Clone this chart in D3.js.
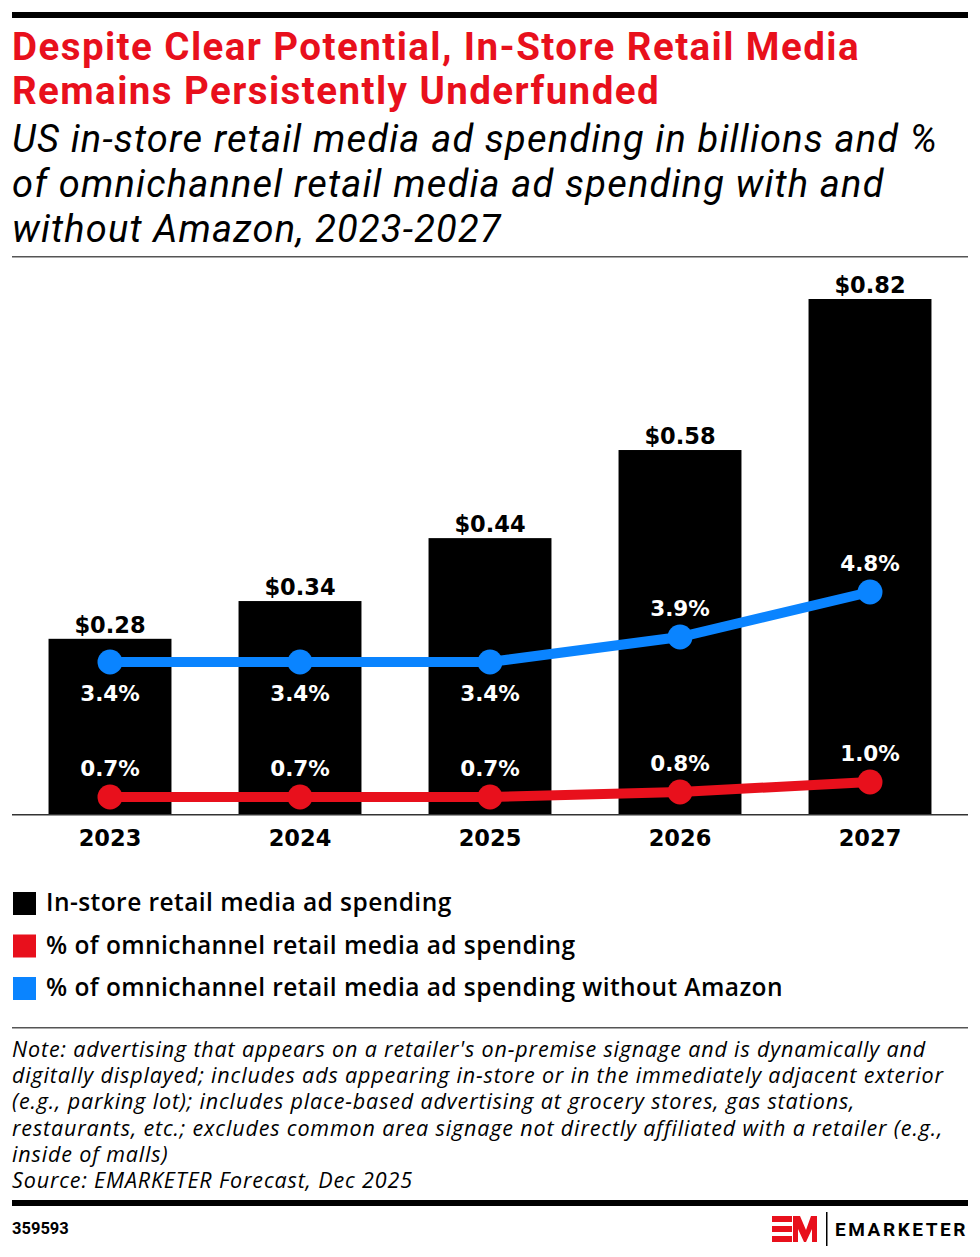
<!DOCTYPE html>
<html><head><meta charset="utf-8">
<script src="https://cdn.jsdelivr.net/npm/d3@7"></script>
<style>
body{margin:0;background:#fff;}
svg{display:block;}
</style></head>
<body>
<svg id="c" width="980" height="1257"></svg>
<script>
const years = ["2023","2024","2025","2026","2027"];
const spending = [0.28, 0.34, 0.44, 0.58, 0.82];
const pctOmni = [0.7, 0.7, 0.7, 0.8, 1.0];
const pctNoAmazon = [3.4, 3.4, 3.4, 3.9, 4.8];
const blueLabelPos = ["below","below","below","above","above"];
const legendItems = ["In-store retail media ad spending","% of omnichannel retail media ad spending","% of omnichannel retail media ad spending without Amazon"];
const titleLines = ["Despite Clear Potential, In-Store Retail Media","Remains Persistently Underfunded"];
const subtitleLines = ["US in-store retail media ad spending in billions and %","of omnichannel retail media ad spending with and","without Amazon, 2023-2027"];
const noteLines = ["Note: advertising that appears on a retailer's on-premise signage and is dynamically and",
"digitally displayed; includes ads appearing in-store or in the immediately adjacent exterior",
"(e.g., parking lot); includes place-based advertising at grocery stores, gas stations,",
"restaurants, etc.; excludes common area signage not directly affiliated with a retailer (e.g.,",
"inside of malls)",
"Source: EMARKETER Forecast, Dec 2025"];
const chartId = "359593";

const RED = "#E8101C", BLUE = "#0A84FF", BLACK = "#000";
const svg = d3.select("#c");
const F = "Roboto, 'Noto Sans', sans-serif";
const FN = "'DejaVu Sans', sans-serif";
const FL = "'Open Sans', sans-serif";

function fitBlock(sel, refIndex, target){
  const n = sel.nodes()[refIndex];
  const w = n.getComputedTextLength();
  const ls = (target - w) / n.textContent.length;
  sel.attr("letter-spacing", ls);
}

svg.append("rect").attr("x",12).attr("y",12).attr("width",956).attr("height",6).attr("fill","#000");
const tt = svg.append("g");
const tSel = tt.selectAll("text.t").data(titleLines).join("text").attr("class","t")
  .attr("x",12).attr("y",(d,i)=>60+i*44)
  .attr("font-family",F).attr("font-weight",700).attr("font-size",38.5).attr("fill",RED).text(d=>d);
fitBlock(tSel,0,848);
const sSel = tt.selectAll("text.s").data(subtitleLines).join("text").attr("class","s")
  .attr("x",12).attr("y",(d,i)=>152+i*45)
  .attr("font-family",F).attr("font-style","italic").attr("font-weight",400).attr("font-size",38).attr("fill","#000").text(d=>d);
fitBlock(sSel,0,926);
svg.append("rect").attr("x",12).attr("y",256).attr("width",956).attr("height",1.5).attr("fill","#555");

const x = d3.scaleBand().domain(years).range([15,965]).paddingInner(0.353).paddingOuter(0.1765);
const y = d3.scaleLinear().domain([0,0.82]).range([815,299]);
const yp = d3.scaleLinear().domain([0,5]).range([832,582]);

const g = svg.append("g");
g.selectAll("rect.bar").data(spending).join("rect").attr("class","bar")
  .attr("x",(d,i)=>x(years[i])).attr("width",x.bandwidth())
  .attr("y",d=>y(d)).attr("height",d=>y(0)-y(d)).attr("fill",BLACK);
g.selectAll("text.bv").data(spending).join("text").attr("class","bv")
  .attr("x",(d,i)=>x(years[i])+x.bandwidth()/2).attr("y",d=>y(d)-6)
  .attr("text-anchor","middle").attr("font-family",FN).attr("font-weight",700).attr("font-size",22.5)
  .text(d=>"$"+d.toFixed(2));

const ax = svg.append("g").attr("transform","translate(0,815)").call(d3.axisBottom(x).tickSize(0).tickPadding(15.5));
ax.select(".domain").remove();
ax.selectAll("text").attr("font-family",FN).attr("font-weight",700).attr("font-size",22.5).attr("fill","#000");
svg.append("rect").attr("x",12).attr("y",814).attr("width",956).attr("height",1.5).attr("fill","#333");

const cx = i => x(years[i])+x.bandwidth()/2;
const line = d3.line().x((d,i)=>cx(i)).y(d=>yp(d));
function series(data,color,labelPos){
  const s = svg.append("g");
  s.append("path").datum(data).attr("d",line).attr("fill","none").attr("stroke",color).attr("stroke-width",10);
  s.selectAll("circle").data(data).join("circle").attr("cx",(d,i)=>cx(i)).attr("cy",d=>yp(d)).attr("r",12.5).attr("fill",color);
  s.selectAll("text").data(data).join("text")
    .attr("x",(d,i)=>cx(i)).attr("y",(d,i)=>labelPos[i]==="below"? yp(d)+39 : yp(d)-21)
    .attr("text-anchor","middle").attr("font-family",FN).attr("font-weight",700).attr("font-size",21.5)
    .attr("fill","#fff").text(d=>d.toFixed(1)+"%");
}
series(pctNoAmazon,BLUE,blueLabelPos);
series(pctOmni,RED,["above","above","above","above","above"]);

const legColors=[BLACK,RED,BLUE];
const lg0 = svg.append("g");
lg0.selectAll("rect").data(legendItems).join("rect")
  .attr("x",13).attr("y",(d,i)=>892+i*42.5).attr("width",23).attr("height",23).attr("fill",(d,i)=>legColors[i]);
const lSel = lg0.selectAll("text").data(legendItems).join("text")
  .attr("x",46).attr("y",(d,i)=>911+i*42.5).attr("font-family",FL).attr("font-weight",600).attr("font-size",24.5).attr("fill","#000").text(d=>d);
fitBlock(lSel,2,737);

svg.append("rect").attr("x",12).attr("y",1027).attr("width",956).attr("height",1.5).attr("fill","#555");
const nSel = svg.append("g").selectAll("text").data(noteLines).join("text")
  .attr("x",12).attr("y",(d,i)=>1057+i*26.2)
  .attr("font-family",FL).attr("font-style","italic").attr("font-size",21.5).attr("fill","#000").text(d=>d);
fitBlock(nSel,0,914);

svg.append("rect").attr("x",12).attr("y",1200).attr("width",956).attr("height",6).attr("fill","#000");
svg.append("text").attr("x",12).attr("y",1234).attr("font-family",F).attr("font-weight",700).attr("font-size",16.5).text(chartId);

const lg = svg.append("g").attr("fill",RED);
lg.append("rect").attr("x",772).attr("y",1216).attr("width",20).attr("height",6);
lg.append("rect").attr("x",772).attr("y",1226).attr("width",20).attr("height",6);
lg.append("rect").attr("x",772).attr("y",1236).attr("width",20).attr("height",6);
lg.append("path").attr("d","M793,1216 L800,1216 L806,1230 L811,1216 L817,1216 L817,1242 L812,1242 L812,1229 L806,1242 L804,1242 L798,1229 L798,1242 L793,1242 Z");
svg.append("rect").attr("x",826).attr("y",1212).attr("width",1.5).attr("height",34).attr("fill","#000");
const lt = svg.append("text").attr("x",835).attr("y",1236).attr("font-family",F).attr("font-weight",700).attr("font-size",19).text("EMARKETER");
fitBlock(lt,0,133);
</script>
</body></html>
